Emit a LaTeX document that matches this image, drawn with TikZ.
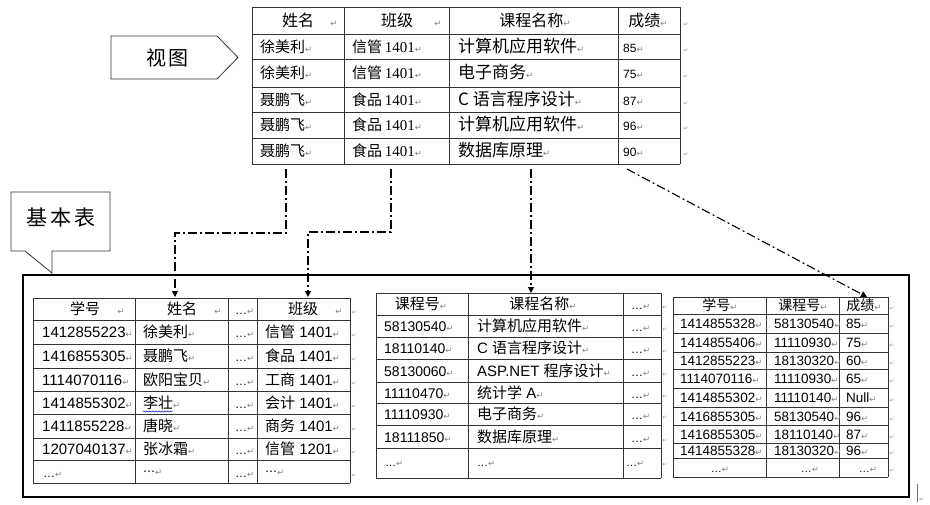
\documentclass[tikz,border=0pt]{standalone}
\usepackage{fontspec}
\setmainfont{Liberation Sans}
\newfontfamily\cjk{Noto Sans CJK SC}
\newfontfamily\songnum{Liberation Serif}
\newfontfamily\symfont{DejaVu Sans}
\usetikzlibrary{arrows.meta,decorations.pathmorphing}
\newcommand\setfs[1]{\fontsize{#1}{#1}\selectfont}
% Word-style paragraph and row-end marks
\newcommand\parmk{{\symfont\fontsize{8.5}{8.5}\selectfont\color{black!50}\char"21B5}}
\newcommand\rowmk{{\symfont\fontsize{6}{6}\selectfont\color{black!40}\char"21B5}}
\tikzset{
  grid/.style={draw=black!80, line width=0.8pt},
  txt/.style={inner sep=0pt, anchor=base west},
  hdr/.style={inner sep=0pt, anchor=base},
  link/.style={line width=1.1pt, dash pattern=on 9pt off 3pt on 2pt off 3pt,
               -{Triangle[width=6pt,length=6pt]}},
  callout/.style={draw=black!80, line width=0.8pt, fill=white},
  frame/.style={draw=black, line width=2pt},
}
\begin{document}
\begin{tikzpicture}[x=1pt,y=-1pt]
\useasboundingbox (0,0) rectangle (930,504);

% ---------------- view (top table) ----------------
\foreach \x in {252,344,449,618,680} \draw[grid] (\x,7) -- (\x,164);
\foreach \y in {7,34,59,87,112,138,164} \draw[grid] (252,\y) -- (680,\y);
\node[hdr,font={\cjk\setfs{16}}] (vh1) at (298,26) {姓名};
\node[hdr] (vh1m) at (334,26) {\parmk};
\node[hdr,font={\cjk\setfs{16}}] (vh2) at (397,26) {班级};
\node[hdr] (vh2m) at (438,26) {\parmk};
\node[hdr,font={\cjk\setfs{16}}] (vh3) at (535,26) {课程名称\parmk};
\node[hdr,font={\cjk\setfs{16}}] (vh4) at (648,26) {成绩\parmk};
\node[hdr] (vh5) at (686,26) {\rowmk};
\foreach \yb/\na/\cl/\cr/\sc [count=\i] in {
   52/徐美利/信管/计算机应用软件/85,
   78.5/徐美利/信管/电子商务/75,
   105/聂鹏飞/食品/C 语言程序设计/87,
   130.5/聂鹏飞/食品/计算机应用软件/96,
   156.5/聂鹏飞/食品/数据库原理/90}{
  \node[txt,font={\cjk\setfs{15}}] (vn\i) at (260,\yb) {\na\parmk};
  \node[txt] (vc\i) at (352,\yb) {{\cjk\setfs{15}\cl} {\songnum\setfs{15}1401}\parmk};
  \node[txt,font={\cjk\setfs{17}}] (vk\i) at (458,\yb) {\cr\parmk};
  \node[txt,font={\setfs{12}}] (vs\i) at (623,\yb) {\sc\parmk};
  \node[hdr] (ve\i) at (686,\yb) {\rowmk};
}

% ---------------- view label ----------------
\draw[callout] (111,36) -- (217,36) -- (238,57.5) -- (217,79) -- (111,79) -- cycle;
\node[font={\cjk\setfs{20}}] (viewlbl) at (167,57.5) {视\hspace{2pt}图};

% ---------------- base tables frame ----------------
\draw[frame] (23,275) rectangle (909,497);
\draw[callout] (11,192) -- (110,192) -- (110,251) -- (52,251) -- (52,273)
               -- (25,251) -- (11,251) -- cycle;
\node[font={\cjk\setfs{21}}] (baselbl) at (61,218) {基\hspace{3pt}本\hspace{3pt}表};

% ---------------- student table ----------------
\foreach \x in {33,135,228,257,350} \draw[grid] (\x,298) -- (\x,483);
\foreach \y in {298,320,344,368,391,414,438,460,483} \draw[grid] (33,\y) -- (350,\y);
\node[hdr,font={\cjk\setfs{15}}] (sh1) at (85,314.5) {学号};
\node[hdr] (sh1m) at (121,314.5) {\parmk};
\node[hdr,font={\cjk\setfs{15}}] (sh2) at (182,314.5) {姓名};
\node[hdr] (sh2m) at (218,314.5) {\parmk};
\node[txt,font={\setfs{12}}] (sh3) at (235,314.5) {\dots\parmk};
\node[hdr,font={\cjk\setfs{15}}] (sh4) at (303,314.5) {班级};
\node[hdr] (sh4m) at (339,314.5) {\parmk};
\node[hdr] (sh5) at (354,314.5) {\rowmk};
\foreach \yb/\no/\na/\cl/\cn [count=\i] in {
   337.5/1412855223/徐美利/信管/1401,
   361.5/1416855305/聂鹏飞/食品/1401,
   385/1114070116/欧阳宝贝/工商/1401,
   408/1414855302/李壮/会计/1401,
   431.5/1411855228/唐晓/商务/1401,
   454.5/1207040137/张冰霜/信管/1201}{
  \node[txt,font={\setfs{15}}] (sn\i) at (42,\yb) {\no\parmk};
  \node[txt,font={\cjk\setfs{15}}] (sa\i) at (143,\yb) {\na\parmk};
  \node[txt,font={\setfs{12}}] (sd\i) at (235,\yb) {\dots\parmk};
  \node[txt,font={\setfs{15}}] (sc\i) at (265,\yb) {{\cjk\cl} \cn\parmk};
  \node[hdr] (se\i) at (354,\yb) {\rowmk};
}
\node[txt,font={\setfs{12}}] (sl1) at (43,477) {\dots\parmk};
\node[txt,font={\symfont\setfs{12}}] (sl2) at (143,475) {⋯\parmk};
\node[txt,font={\setfs{12}}] (sl3) at (235,477) {\dots\parmk};
\node[txt,font={\symfont\setfs{12}}] (sl4) at (265,475) {⋯\parmk};
\node[hdr] (sl5) at (354,477) {\rowmk};
% spelling mark under a name
\draw[blue!70!black, line width=0.5pt, decorate,
      decoration={snake, amplitude=0.6pt, segment length=3pt}]
      ([yshift=-3.5pt]sa4.base west) -- ([yshift=-3.5pt,xshift=-8pt]sa4.base east);

% ---------------- course table ----------------
\foreach \x in {376,468,623,661} \draw[grid] (\x,293) -- (\x,478);
\foreach \y in {293,315,337,359,382,403,425,448,478} \draw[grid] (376,\y) -- (661,\y);
\node[hdr,font={\cjk\setfs{15}}] (ch1) at (421,309.5) {课程号\parmk};
\node[hdr,font={\cjk\setfs{15}}] (ch2) at (543,309.5) {课程名称\parmk};
\node[txt,font={\setfs{12}}] (ch3) at (631,309.5) {\dots\parmk};
\node[hdr] (ch4) at (665,309.5) {\rowmk};
\foreach \yb/\no/\nm [count=\i] in {
   331.5/58130540/\cjk 计算机应用软件,
   353.5/18110140/C \cjk 语言程序设计,
   376/58130060/ASP.NET \cjk 程序设计,
   398/11110470/\cjk 统计学\rmfamily{} A,
   419.5/11110930/\cjk 电子商务,
   442/18111850/\cjk 数据库原理}{
  \node[txt,font={\setfs{14}}] (cn\i) at (384,\yb) {\no\parmk};
  \node[txt,font={\setfs{15}}] (cm\i) at (477,\yb) {\nm\parmk};
  \node[txt,font={\setfs{12}}] (cd\i) at (631,\yb) {\dots\parmk};
  \node[hdr] (ce\i) at (665,\yb) {\rowmk};
}
\node[txt,font={\setfs{11}}] (cl1) at (385,466) {\dots\parmk};
\node[txt,font={\setfs{11}}] (cl2) at (477,466) {\dots\parmk};
\node[txt,font={\setfs{11}}] (cl3) at (626,466) {\dots\parmk};
\node[hdr] (cl4) at (665,466) {\rowmk};

% ---------------- score table ----------------
\foreach \x in {673,766,839,888} \draw[grid] (\x,297) -- (\x,477);
\foreach \y in {297,314,333,352,369,388,407,425,443,458,477} \draw[grid] (673,\y) -- (888,\y);
\node[hdr,font={\cjk\setfs{14}}] (gh1) at (720,310.5) {学号\parmk};
\node[hdr,font={\cjk\setfs{14}}] (gh2) at (803,310.5) {课程号\parmk};
\node[hdr,font={\cjk\setfs{14}}] (gh3) at (864,310.5) {成绩\parmk};
\node[hdr] (gh4) at (892,310.5) {\rowmk};
\foreach \yb/\no/\cn/\sc [count=\i] in {
   328.5/1414855328/58130540/85,
   347.5/1414855406/11110930/75,
   365.5/1412855223/18130320/60,
   383.5/1114070116/11110930/65,
   402.5/1414855302/11110140/Null,
   421/1416855305/58130540/96,
   439/1416855305/18110140/87,
   455.5/1414855328/18130320/96}{
  \node[txt,font={\setfs{13.5}}] (gn\i) at (680,\yb) {\no\parmk};
  \node[txt,font={\setfs{13.5}}] (gc\i) at (774,\yb) {\cn\parmk};
  \node[txt,font={\setfs{13.5}}] (gs\i) at (846,\yb) {\sc\parmk};
  \node[hdr] (ge\i) at (892,\yb) {\rowmk};
}
\node[hdr,font={\setfs{11}}] (gl1) at (720,472) {\dots\parmk};
\node[hdr,font={\setfs{11}}] (gl2) at (810,472) {\dots\parmk};
\node[hdr,font={\setfs{11}}] (gl3) at (868,472) {\dots\parmk};
\node[hdr] (gl4) at (892,472) {\rowmk};

% end-of-document mark
\draw[black!55, line width=0.6pt] (917,484) -- (917,502);
\node[txt] (endmk) at (919,501) {\rowmk};

% ---------------- view-to-table links ----------------
\coordinate (v1) at (286,169);  \coordinate (t1) at (175,297);
\coordinate (v2) at (391,169);  \coordinate (t2) at (308,297);
\coordinate (v3) at (531,169);  \coordinate (t3) at (531,293);
\coordinate (v4) at (627,169);  \coordinate (t4) at (867,297);
\draw[link] (v1) -- ++(0,64) -| (t1);
\draw[link] (v2) -- ++(0,63) -| (t2);
\draw[link] (v3) -- (t3);
\draw[link] (v4) -- (t4);
\end{tikzpicture}
\end{document}
